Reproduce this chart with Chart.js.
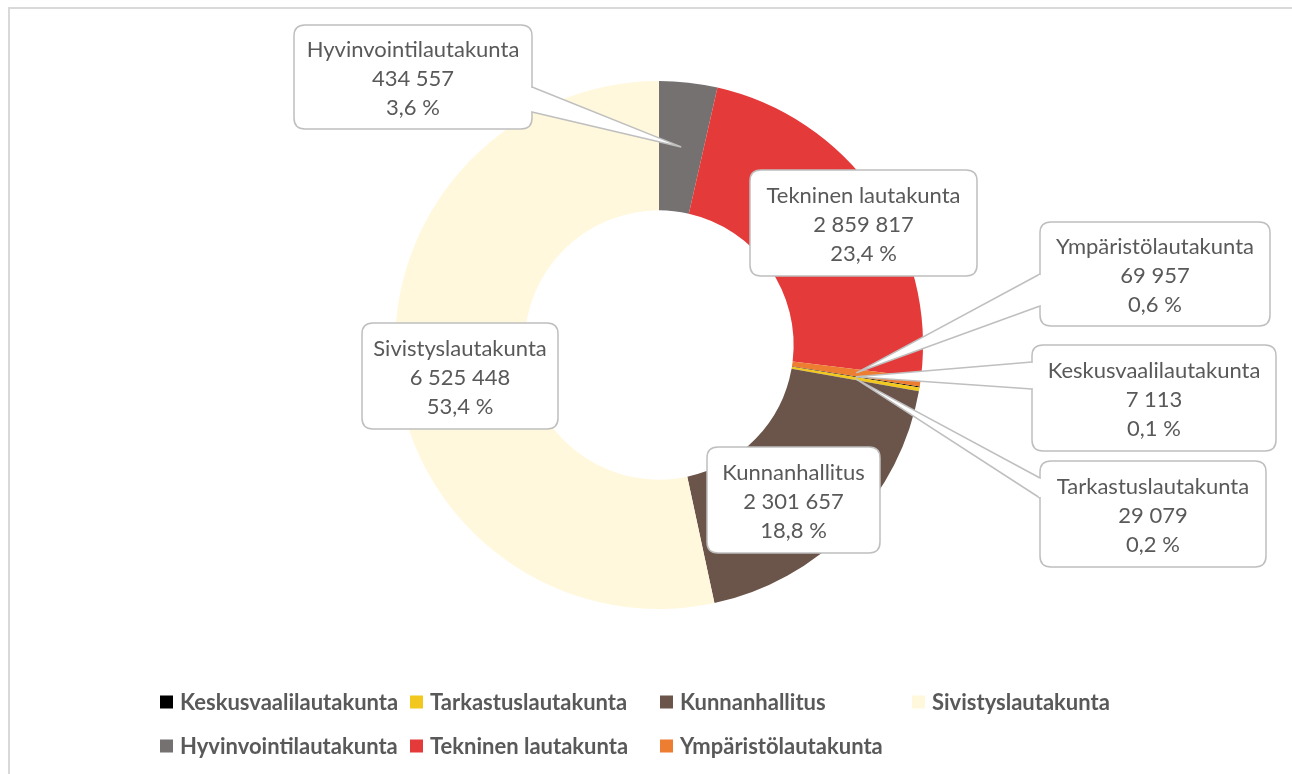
<!DOCTYPE html>
<html>
<head>
<meta charset="utf-8">
<script src="https://cdn.jsdelivr.net/npm/chart.js@4"></script>
<style>
  body { margin: 0; background: #fff; }
  #wrap { width: 1292px; height: 774px; }
</style>
</head>
<body>
<div id="wrap"><canvas id="budget-doughnut" width="1292" height="774"></canvas></div>
<script>
// data
const labels = [
  'Keskusvaalilautakunta',
  'Tarkastuslautakunta',
  'Kunnanhallitus',
  'Sivistyslautakunta',
  'Hyvinvointilautakunta',
  'Tekninen lautakunta',
  'Ympäristölautakunta'
]
const values = [7113, 29079, 2301657, 6525448, 434557, 2859817, 69957]
const colors = ['#000000', '#F2C81E', '#6B5449', '#FFF8DC', '#767171', '#E53A3A', '#ED7D31']

// callout boxes: x, y, w, h of box, optional pointer base on box edge
const callouts = [
  { x: 1032, y: 345, w: 244, h: 106, base: [[1032, 362], [1032, 389]] },
  { x: 1040, y: 461, w: 226, h: 106, base: [[1040, 478], [1040, 498]] },
  { x: 707, y: 447, w: 173, h: 106 },
  { x: 362, y: 323, w: 196, h: 106 },
  { x: 294, y: 25, w: 238, h: 104, base: [[532, 87], [532, 112]] },
  { x: 750, y: 170, w: 227, h: 106 },
  { x: 1040, y: 222, w: 230, h: 104, base: [[1040, 274], [1040, 306]] }
]

const total = values.reduce((a, b) => a + b, 0)
const fmtNum = v => String(v).replace(/\B(?=(\d{3})+(?!\d))/g, ' ')
const fmtPct = v => (v / total * 100).toFixed(1).replace('.', ',') + ' %'

function roundRect(ctx, x, y, w, h, r) {
  ctx.beginPath()
  ctx.moveTo(x + r, y)
  ctx.lineTo(x + w - r, y)
  ctx.quadraticCurveTo(x + w, y, x + w, y + r)
  ctx.lineTo(x + w, y + h - r)
  ctx.quadraticCurveTo(x + w, y + h, x + w - r, y + h)
  ctx.lineTo(x + r, y + h)
  ctx.quadraticCurveTo(x, y + h, x, y + h - r)
  ctx.lineTo(x, y + r)
  ctx.quadraticCurveTo(x, y, x + r, y)
  ctx.closePath()
}

const calloutPlugin = {
  id: 'callouts',
  afterDatasetsDraw(chart) {
    const ctx = chart.ctx
    const meta = chart.getDatasetMeta(0)
    ctx.save()
    callouts.forEach((c, i) => {
      ctx.lineWidth = 1.5
      ctx.strokeStyle = '#BFBFBF'
      ctx.fillStyle = '#fff'
      roundRect(ctx, c.x, c.y, c.w, c.h, 11)
      ctx.fill()
      ctx.stroke()
      if (c.base) {
        const tip = meta.data[i].tooltipPosition()
        const [a, b] = c.base
        ctx.beginPath()
        ctx.moveTo(a[0], a[1])
        ctx.lineTo(tip.x, tip.y)
        ctx.lineTo(b[0], b[1])
        ctx.fillStyle = '#fff'
        ctx.fill()
        ctx.stroke()
        // open the box edge under the pointer
        ctx.beginPath()
        ctx.moveTo(a[0], a[1] + 1)
        ctx.lineTo(b[0], b[1] - 1)
        ctx.strokeStyle = '#fff'
        ctx.lineWidth = 2.5
        ctx.stroke()
      }
      ctx.fillStyle = '#595959'
      ctx.font = '22px Lato, "Open Sans", sans-serif'
      ctx.textAlign = 'center'
      ctx.textBaseline = 'middle'
      const cx = c.x + c.w / 2
      const cy = c.y + c.h / 2
      ctx.fillText(chart.data.labels[i], cx, cy - 27)
      ctx.fillText(fmtNum(values[i]), cx, cy + 2)
      ctx.fillText(fmtPct(values[i]), cx, cy + 31)
    })
    ctx.restore()
  }
}

const frameLegendPlugin = {
  id: 'frameLegend',
  afterDraw(chart) {
    const ctx = chart.ctx
    ctx.save()
    // chart frame
    ctx.strokeStyle = '#D9D9D9'
    ctx.lineWidth = 2
    ctx.beginPath()
    ctx.moveTo(9, 800)
    ctx.lineTo(9, 8)
    ctx.lineTo(1300, 8)
    ctx.stroke()
    // legend in fixed columns
    const colX = [160, 410, 660, 912]
    const rowY = [702, 746]
    ctx.font = 'bold 22px Lato, "Open Sans", sans-serif'
    ctx.textBaseline = 'middle'
    ctx.textAlign = 'left'
    chart.data.labels.forEach((lab, i) => {
      const x = colX[i % 4]
      const y = rowY[Math.floor(i / 4)]
      ctx.fillStyle = chart.data.datasets[0].backgroundColor[i]
      ctx.fillRect(x, y - 6.5, 13, 13)
      ctx.fillStyle = '#595959'
      ctx.fillText(lab, x + 20, y + 1)
    })
    ctx.restore()
  }
}

new Chart(document.getElementById('budget-doughnut'), {
  type: 'doughnut',
  data: {
    labels: labels,
    datasets: [
      {
        data: values,
        backgroundColor: colors,
        borderWidth: 0
      }
    ]
  },
  options: {
    responsive: false,
    animation: false,
    devicePixelRatio: 1,
    cutout: '51%',
    rotation: 360 - (values.slice(0, 4).reduce((a, b) => a + b, 0) / total) * 360,
    layout: {
      padding: { left: 395, right: 369, top: 81, bottom: 165 }
    },
    plugins: {
      legend: { display: false },
      tooltip: { enabled: false }
    }
  },
  plugins: [calloutPlugin, frameLegendPlugin]
})
</script>
</body>
</html>
